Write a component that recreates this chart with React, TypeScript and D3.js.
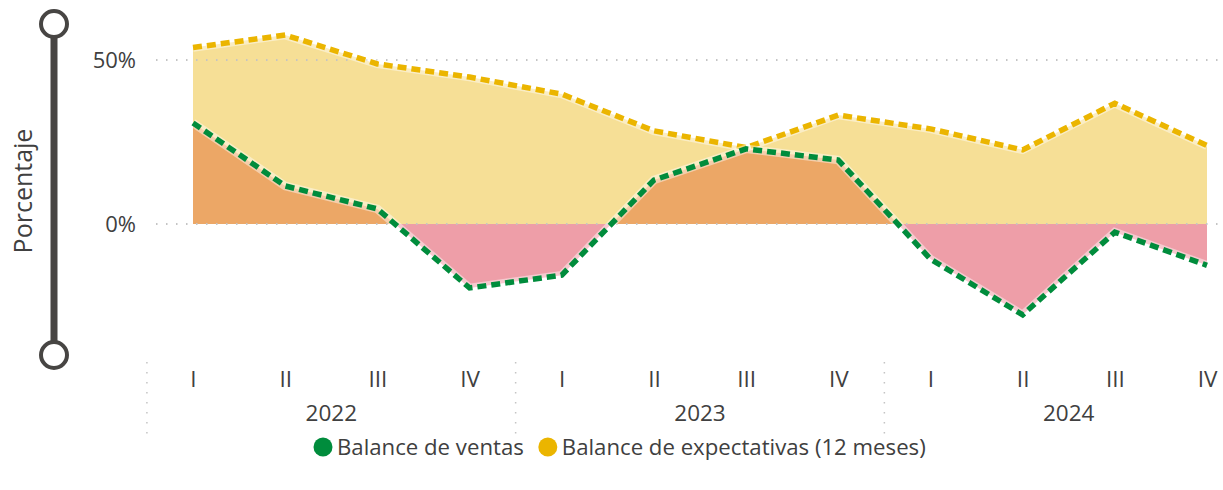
import { useEffect, useRef } from "react";
import * as d3 from "d3";

const years = ["2022", "2023", "2024"];
const quarters = ["I", "II", "III", "IV"];
const ventas = [30.8, 11.6, 4.6, -19.5, -15.6, 13.4, 22.9, 19.5, -10.7, -27.7, -2.5, -12.6];
const expectativas = [53.8, 57.6, 48.8, 44.8, 39.6, 28.4, 23.3, 33.2, 29.0, 22.6, 36.8, 23.9];
const yTicks = [0, 50];
const legendItems = [
  { label: "Balance de ventas", color: "#008C3C" },
  { label: "Balance de expectativas (12 meses)", color: "#EBB500" },
];

const W = 1223;
const H = 490;
const FONT = "'Segoe UI', 'Open Sans', sans-serif";
const TEXT = "#404040";

export default function App() {
  const svgRef = useRef<SVGSVGElement>(null);

  useEffect(() => {
    document.body.style.margin = "0";
    if (!svgRef.current) return;
    const svg = d3.select(svgRef.current);
    svg.selectAll("*").remove();

    const idx = d3.range(ventas.length);
    const x = d3.scalePoint<number>().domain(idx).range([193, 1207]);
    const y = d3.scaleLinear().domain([0, 50]).range([224, 60]);
    const y0 = y(0);

    const defs = svg.append("defs");
    defs.append("clipPath").attr("id", "pos")
      .append("rect").attr("x", 0).attr("y", 0).attr("width", W).attr("height", y0);
    defs.append("clipPath").attr("id", "neg")
      .append("rect").attr("x", 0).attr("y", y0).attr("width", W).attr("height", H - y0);

    // y axis decoration
    const deco = svg.append("g").attr("stroke", "#474543").attr("fill", "none");
    deco.append("line").attr("x1", 54).attr("x2", 54).attr("y1", 36).attr("y2", 343).attr("stroke-width", 7);
    deco.append("circle").attr("cx", 54).attr("cy", 24).attr("r", 13).attr("stroke-width", 4).attr("fill", "#fff");
    deco.append("circle").attr("cx", 54).attr("cy", 355).attr("r", 13).attr("stroke-width", 4).attr("fill", "#fff");

    svg.append("text")
      .attr("transform", `translate(32,${191}) rotate(-90)`)
      .attr("text-anchor", "middle")
      .attr("font-family", FONT).attr("font-size", 25).attr("fill", TEXT)
      .text("Porcentaje");

    // areas
    const areaExp = d3.area<number>().x(i => x(i)!).y0(y0).y1(i => y(expectativas[i]));
    const areaVen = d3.area<number>().x(i => x(i)!).y0(y0).y1(i => y(ventas[i]));
    svg.append("path").datum(idx).attr("d", areaExp).attr("fill", "#F6DF96");
    svg.append("path").datum(idx).attr("d", areaVen).attr("fill", "#ECA766").attr("clip-path", "url(#pos)");
    svg.append("path").datum(idx).attr("d", areaVen).attr("fill", "#EE9EA8").attr("clip-path", "url(#neg)");

    // gridlines
    svg.append("g").selectAll("line").data(yTicks).enter().append("line")
      .attr("x1", 156).attr("x2", W).attr("y1", d => y(d)).attr("y2", d => y(d))
      .attr("stroke", "#C4C4C4").attr("stroke-width", 2).attr("stroke-dasharray", "1.5 8.5");

    // y tick labels
    const yAxis = svg.append("g").attr("transform", "translate(136,0)")
      .call(d3.axisLeft(y).tickValues(yTicks).tickSize(0).tickPadding(0).tickFormat(d => `${d}%`));
    yAxis.select(".domain").remove();
    yAxis.selectAll("text").attr("font-family", FONT).attr("font-size", 22).attr("fill", TEXT);

    // lines
    const lineOf = (vals: number[]) => d3.line<number>().x(i => x(i)!).y(i => y(vals[i]));
    const series = [
      { vals: expectativas, color: legendItems[1].color },
      { vals: ventas, color: legendItems[0].color },
    ];
    series.forEach(s => {
      svg.append("path").datum(idx).attr("d", lineOf(s.vals)).attr("fill", "none")
        .attr("stroke", "#fff").attr("stroke-opacity", 0.45).attr("stroke-width", 8.5);
      svg.append("path").datum(idx).attr("d", lineOf(s.vals)).attr("fill", "none")
        .attr("stroke", s.color).attr("stroke-width", 5.5).attr("stroke-dasharray", "9 5");
    });

    // x axis
    const xAxis = svg.append("g").attr("transform", "translate(0,371)")
      .call(d3.axisBottom(x).tickSize(0).tickPadding(0).tickFormat(i => quarters[(i as number) % 4]));
    xAxis.select(".domain").remove();
    xAxis.selectAll("text").attr("font-family", FONT).attr("font-size", 22.5).attr("fill", TEXT);

    svg.append("g").selectAll("text").data(years).enter().append("text")
      .attr("x", (_, k) => (x(k * 4)! + x(k * 4 + 3)!) / 2)
      .attr("y", 421)
      .attr("text-anchor", "middle")
      .attr("font-family", FONT).attr("font-size", 22.5).attr("fill", TEXT)
      .text(d => d);

    const step = x.step();
    svg.append("g").selectAll("line").data(d3.range(years.length)).enter().append("line")
      .attr("x1", k => x(k * 4)! - step / 2).attr("x2", k => x(k * 4)! - step / 2)
      .attr("y1", 362).attr("y2", 436)
      .attr("stroke", "#C4C4C4").attr("stroke-width", 1.5).attr("stroke-dasharray", "1.5 8.5");

    // legend
    const legend = svg.append("g").attr("transform", "translate(323,447)");
    let lx = 0;
    legendItems.forEach(item => {
      const g = legend.append("g").attr("transform", `translate(${lx},0)`);
      g.append("circle").attr("r", 9.5).attr("fill", item.color);
      const t = g.append("text").attr("x", 14).attr("y", 8)
        .attr("font-family", FONT).attr("font-size", 22.2).attr("fill", TEXT).text(item.label);
      const w = (t.node() as SVGTextElement).getComputedTextLength();
      lx += 14 + w + 24;
    });
  }, []);

  return <svg ref={svgRef} width={W} height={H} style={{ display: "block" }} />;
}
